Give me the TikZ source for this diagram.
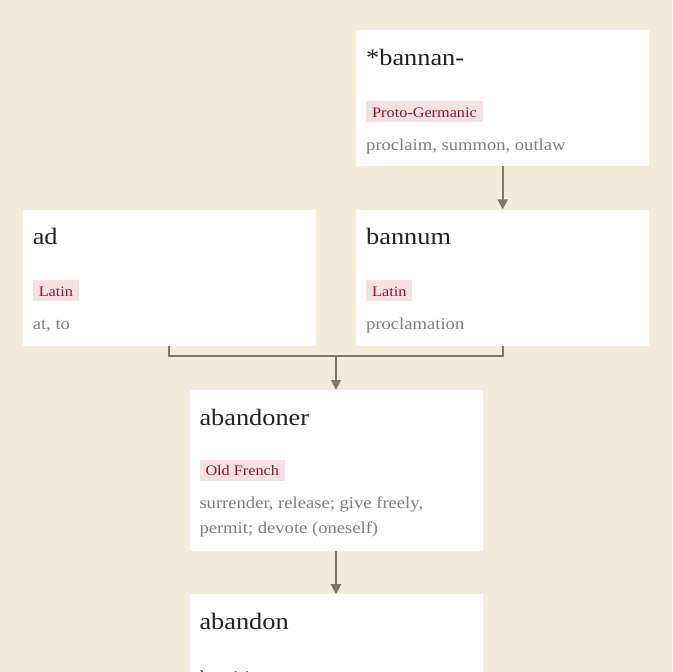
\documentclass[tikz,border=0pt]{standalone}
\usepackage{fontspec}
\setmainfont{Liberation Serif}[FakeStretch=1.12]
\usepackage{tikz}
\usetikzlibrary{arrows.meta, positioning, calc}

\definecolor{paper}{HTML}{F2ECDC}
\definecolor{arrowgray}{HTML}{7F7867}
\definecolor{tagpink}{HTML}{F5E1E4}
\definecolor{tagred}{HTML}{8A1530}
\definecolor{glossgray}{HTML}{7E7E7E}
\definecolor{wordblack}{HTML}{222222}

\begin{document}
\begin{tikzpicture}[
        x=1pt, y=-1pt,
        node distance=43pt and 40pt,
        box/.style={fill=white, minimum width=293pt, minimum height=136pt, inner sep=0pt},
        word/.style={anchor=base west, inner sep=0pt, text=wordblack, font=\fontsize{23.5}{28}\selectfont},
        lang/.style={anchor=base west, fill=tagpink, text=tagred, inner xsep=6pt, inner ysep=0pt, text height=16pt, text depth=5pt, font=\fontsize{14.5}{17}\selectfont},
        gloss/.style={anchor=base west, inner sep=0pt, align=left, text=glossgray, font=\fontsize{16.6}{25}\selectfont},
        flow/.style={-{Triangle[length=10pt, width=10pt]}, line width=2.2pt, draw=arrowgray},
        link/.style={line width=2.2pt, draw=arrowgray}
    ]

    % page
    \fill[paper] (0,0) rectangle (672,672);
    \useasboundingbox (0,0) rectangle (672,672);

    % Proto-Germanic root
    \node[box, anchor=north west] (bannan) at (356,30) {};
    \node[word] (bannanWord) at ($(bannan.north west)+(10,35)$) {*bannan-};
    \node[lang] (bannanLang) at ($(bannan.north west)+(10,87)$) {Proto-Germanic};
    \node[gloss] (bannanGloss) at ($(bannan.north west)+(10,120)$) {proclaim, summon, outlaw};

    % Latin
    \node[box] (bannum) [below=of bannan] {};
    \node[word] (bannumWord) at ($(bannum.north west)+(10,35)$) {bannum};
    \node[lang] (bannumLang) at ($(bannum.north west)+(10,87)$) {Latin};
    \node[gloss] (bannumGloss) at ($(bannum.north west)+(10,120)$) {proclamation};

    \node[box] (ad) [left=of bannum] {};
    \node[word] (adWord) at ($(ad.north west)+(10,35)$) {ad};
    \node[lang] (adLang) at ($(ad.north west)+(10,87)$) {Latin};
    \node[gloss] (adGloss) at ($(ad.north west)+(10,120)$) {at, to};

    % Old French
    \coordinate (joint) at ($(ad.south)!0.5!(bannum.south)+(0,10)$);
    \node[box, minimum height=161pt] (abandoner) [below=34pt of joint] {};
    \node[word] (abandonerWord) at ($(abandoner.north west)+(10,36)$) {abandoner};
    \node[lang] (abandonerLang) at ($(abandoner.north west)+(10,86)$) {Old French};
    % base is the last line here
    \node[gloss] (abandonerGloss) at ($(abandoner.north west)+(10,144)$) {surrender, release; give freely,\\permit; devote (oneself)};

    % English
    \node[box] (abandon) [below=of abandoner] {};
    \node[word] (abandonWord) at ($(abandon.north west)+(10,35)$) {abandon};
    \node[gloss, text=wordblack] (abandonDate) at ($(abandon.north west)+(10,88)$) {late 14c.};

    \draw[flow] (bannan) -- (bannum);
    \draw[link] (ad.south) |- (joint) -| (bannum.south);
    \draw[flow] (joint) -- (abandoner);
    \draw[flow] (abandoner) -- (abandon);

\end{tikzpicture}
\end{document}
